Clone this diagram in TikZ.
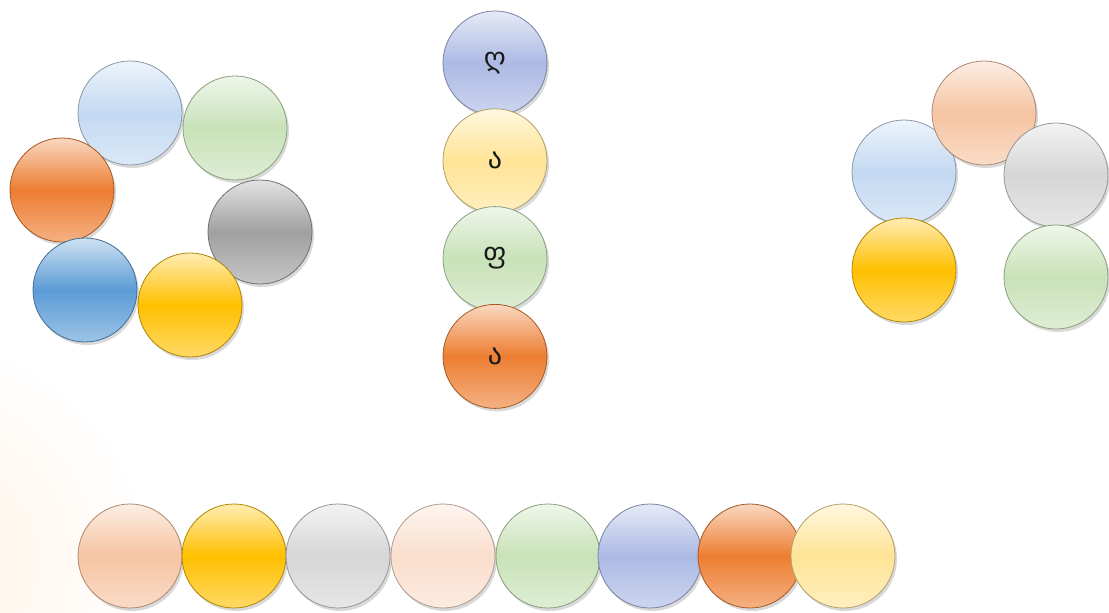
\documentclass[tikz,border=0pt]{standalone}
\usepackage{fontspec}
\newfontfamily\geofont{DejaVu Sans}
\usepackage{xcolor}
\usepackage{tikz}
\usetikzlibrary{positioning, shadows}

\definecolor{ballorange}{RGB}{237,125,49}
\definecolor{ballblue}{RGB}{91,155,213}
\definecolor{ballgold}{RGB}{255,192,0}
\definecolor{ballgray}{RGB}{160,160,160}
\definecolor{paleblue}{RGB}{195,217,242}
\definecolor{palegreen}{RGB}{200,226,184}
\definecolor{lavender}{RGB}{172,186,228}
\definecolor{paleyellow}{RGB}{255,228,150}
\definecolor{peach}{RGB}{246,196,162}
\definecolor{lightgray}{RGB}{214,214,214}
\definecolor{palepeach}{RGB}{250,222,205}

\begin{document}
\begin{tikzpicture}[
  x=1pt, y=-1pt,
  node distance=-7pt,
  ball/.style={circle, minimum size=104pt, inner sep=0pt, draw=#1!70!black, line width=0.8pt,
    top color=#1!30!white, bottom color=#1!60!white, middle color=#1,
    drop shadow={opacity=0.3, shadow xshift=2pt, shadow yshift=-3pt}},
  letter/.style={font=\geofont\fontsize{28}{28}\selectfont, text=black!90}
]
\useasboundingbox (0,0) rectangle (1109,613);

% Background glow
\begin{scope}
  \clip (0,0) rectangle (1109,613);
  \shade[inner color=orange!10, outer color=white] (-70,560) circle (220);
\end{scope}

% Left cluster
\node[ball=paleblue] (left1) at (130,113) {};
\node[ball=palegreen] (left2) at (235,128) {};
\node[ball=ballorange] (left3) at (62,190) {};
\node[ball=ballgray] (left4) at (260,232) {};
\node[ball=ballblue] (left5) at (85,290) {};
\node[ball=ballgold] (left6) at (190,305) {};

% Middle column
\node[ball=lavender] (mid1) at (495,63) {};
\node[ball=paleyellow, below=of mid1] (mid2) {};
\node[ball=palegreen, below=of mid2] (mid3) {};
\node[ball=ballorange, below=of mid3] (mid4) {};
\node[letter] at (mid1) {ღ};
\node[letter] at (mid2) {ა};
\node[letter] at (mid3) {ფ};
\node[letter] at (mid4) {ა};

% Right cluster
\node[ball=paleblue] (right1) at (904,172) {};
\node[ball=peach] (right2) at (984,113) {};
\node[ball=lightgray] (right3) at (1056,175) {};
\node[ball=ballgold] (right4) at (904,270) {};
\node[ball=palegreen] (right5) at (1056,277) {};

% Bottom row
\foreach \c/\x [count=\i] in {peach/130, ballgold/234, lightgray/338, palepeach/443,
    palegreen/548, lavender/650, ballorange/750, paleyellow/843}
  \node[ball=\c] (row\i) at (\x,556) {};

\end{tikzpicture}
\end{document}
